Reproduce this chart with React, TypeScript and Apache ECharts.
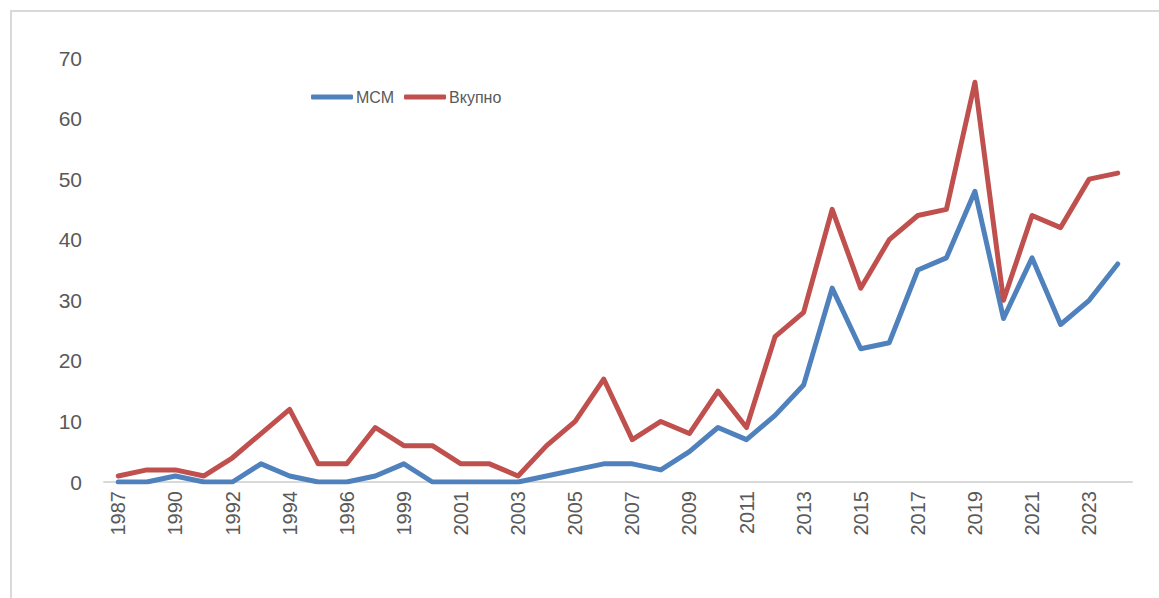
import React, { useEffect, useRef } from "react";
import * as echarts from "echarts";

const years = [
  "1987", "1989", "1990", "1991", "1992", "1993", "1994", "1995", "1996", "1998",
  "1999", "2000", "2001", "2002", "2003", "2004", "2005", "2006", "2007", "2008",
  "2009", "2010", "2011", "2012", "2013", "2014", "2015", "2016", "2017", "2018",
  "2019", "2020", "2021", "2022", "2023", "2024",
];

const mcm = [
  0, 0, 1, 0, 0, 3, 1, 0, 0, 1,
  3, 0, 0, 0, 0, 1, 2, 3, 3, 2,
  5, 9, 7, 11, 16, 32, 22, 23, 35, 37,
  48, 27, 37, 26, 30, 36,
];

const vkupno = [
  1, 2, 2, 1, 4, 8, 12, 3, 3, 9,
  6, 6, 3, 3, 1, 6, 10, 17, 7, 10,
  8, 15, 9, 24, 28, 45, 32, 40, 44, 45,
  66, 30, 44, 42, 50, 51,
];

const seriesNames = ["МСМ", "Вкупно"];

export default function App() {
  const ref = useRef<HTMLDivElement>(null);
  useEffect(() => {
    if (!ref.current) return;
    const chart = echarts.init(ref.current, null, { renderer: "svg" });
    const font = "Liberation Sans";
    chart.setOption({
      animation: false,
      backgroundColor: "#ffffff",
      textStyle: { fontFamily: font },
      graphic: [
        {
          type: "rect",
          shape: { x: 11, y: 11, width: 2000, height: 2000 },
          style: { fill: "none", stroke: "#d9d9d9", lineWidth: 2 },
          silent: true,
        },
      ],
      legend: {
        left: 306,
        top: 84,
        itemWidth: 42,
        itemHeight: 5,
        itemGap: 10,
        icon: "roundRect",
        textStyle: { fontSize: 16, color: "#595959", fontFamily: font, padding: [0, 0, 0, -2] },
        data: seriesNames,
      },
      grid: { left: 104, right: 27, top: 58, bottom: 116, containLabel: false },
      xAxis: {
        type: "category",
        data: years,
        boundaryGap: true,
        axisLine: { show: true, lineStyle: { color: "#d9d9d9", width: 2 } },
        axisTick: { show: false },
        axisLabel: {
          interval: 1,
          rotate: 90,
          fontSize: 20,
          color: "#595959",
          margin: 9,
          fontFamily: font,
        },
      },
      yAxis: {
        type: "value",
        min: 0,
        max: 70,
        interval: 10,
        splitLine: { show: false },
        axisLine: { show: false },
        axisTick: { show: false },
        axisLabel: { fontSize: 21, color: "#595959", margin: 22, fontFamily: font },
      },
      series: [
        {
          name: seriesNames[0],
          type: "line",
          data: mcm,
          showSymbol: false,
          color: "#4f81bd",
          lineStyle: { width: 5, color: "#4f81bd", cap: "round", join: "round" },
        },
        {
          name: seriesNames[1],
          type: "line",
          data: vkupno,
          showSymbol: false,
          color: "#c0504d",
          lineStyle: { width: 5, color: "#c0504d", cap: "round", join: "round" },
        },
      ],
    });
    return () => chart.dispose();
  }, []);
  return (
    <div style={{ position: "fixed", left: 0, top: 0, width: 1159, height: 598, background: "#fff" }}>
      <div ref={ref} style={{ width: 1159, height: 598 }} />
    </div>
  );
}
